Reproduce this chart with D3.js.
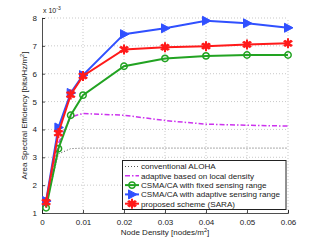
<!DOCTYPE html>
<html>
<head>
<meta charset="utf-8">
<script src="https://cdn.jsdelivr.net/npm/d3@7"></script>
<style>
  body { margin: 0; background: #fff; }
  text { font-family: "Liberation Sans", Arial, sans-serif; }
</style>
</head>
<body>
<div id="chart"></div>
<script>
const density = [0.001, 0.004, 0.007, 0.01, 0.02, 0.03, 0.04, 0.05, 0.06]
const aloha = [1.35, 3.12, 3.31, 3.33, 3.33, 3.33, 3.33, 3.33, 3.33]
const adaptiveLocal = [1.3, 3.5, 4.45, 4.57, 4.51, 4.32, 4.19, 4.15, 4.12]
const csmaFixed = [1.19, 3.31, 4.51, 5.23, 6.27, 6.55, 6.64, 6.67, 6.67]
const csmaAdaptive = [1.43, 4.07, 5.31, 5.95, 7.42, 7.63, 7.9, 7.81, 7.65]
const sara = [1.39, 3.87, 5.25, 5.92, 6.87, 6.95, 6.99, 7.05, 7.09]
const xTicks = [0, 0.01, 0.02, 0.03, 0.04, 0.05, 0.06]
const yTicks = [1, 2, 3, 4, 5, 6, 7, 8]

const series = [
  { name: 'conventional ALOHA', vals: aloha, color: '#555', dash: '1,2', width: 1, marker: null },
  { name: 'adaptive based on local density', vals: adaptiveLocal, color: '#cc33ee', dash: '5,2,1.5,2', width: 1.5, marker: null },
  { name: 'CSMA/CA with fixed sensing range', vals: csmaFixed, color: '#22a322', dash: null, width: 2, marker: 'circle' },
  { name: 'CSMA/CA with adaptive sensing range', vals: csmaAdaptive, color: '#3050ff', dash: null, width: 2, marker: 'tri' },
  { name: 'proposed scheme (SARA)', vals: sara, color: '#ff1a1a', dash: null, width: 2, marker: 'star' }
]

const w = 319, h = 240
const svg = d3.select('#chart').append('svg').attr('width', w).attr('height', h)

const x = d3.scaleLinear().domain([0, 0.06]).range([42, 288])
const y = d3.scaleLinear().domain([1, 8]).range([213, 18])

// grid
svg.append('g').selectAll('line').data(xTicks.slice(1)).enter().append('line')
  .attr('x1', d => x(d)).attr('x2', d => x(d)).attr('y1', y(1)).attr('y2', y(8))
  .attr('stroke', '#bbb').attr('stroke-width', 0.8).attr('stroke-dasharray', '1,2')
svg.append('g').selectAll('line').data(yTicks.slice(1)).enter().append('line')
  .attr('x1', x(0)).attr('x2', x(0.06)).attr('y1', d => y(d)).attr('y2', d => y(d))
  .attr('stroke', '#bbb').attr('stroke-width', 0.8).attr('stroke-dasharray', '1,2')

const xAxis = d3.axisBottom(x).tickValues(xTicks).tickSize(-3).tickPadding(6)
  .tickFormat(d => d === 0 ? '0' : d3.format('.2f')(d))
const yAxis = d3.axisLeft(y).tickValues(yTicks).tickSize(-3).tickPadding(5).tickFormat(d => d)

const gx = svg.append('g').attr('transform', `translate(0,${y(1)})`).call(xAxis)
const gy = svg.append('g').attr('transform', `translate(${x(0)},0)`).call(yAxis)
;[gx, gy].forEach(g => {
  g.select('.domain').attr('stroke', '#222').attr('stroke-width', 0.8)
  g.selectAll('.tick line').attr('stroke', '#222').attr('stroke-width', 0.8)
  g.selectAll('text').attr('font-size', 8).attr('fill', '#222')
})

svg.append('text').attr('x', 43).attr('y', 13).attr('font-size', 7).attr('fill', '#222')
  .text('x 10').append('tspan').attr('dy', -3).attr('font-size', 5).text('-3')

svg.append('text').attr('transform', `translate(27,${(y(1) + y(8)) / 2}) rotate(-90)`)
  .attr('text-anchor', 'middle').attr('font-size', 8).attr('fill', '#222')
  .text('Area Spectral Efficiency [bits/Hz/m').append('tspan').attr('dy', -3).attr('font-size', 5.5).text('2')
  .select(function () { return this.parentNode }).append('tspan').attr('dy', 3).text(']')

svg.append('text').attr('x', 165).attr('y', 235).attr('text-anchor', 'middle').attr('font-size', 8).attr('fill', '#222')
  .text('Node Density [nodes/m').append('tspan').attr('dy', -3).attr('font-size', 5.5).text('2')
  .select(function () { return this.parentNode }).append('tspan').attr('dy', 3).text(']')

function drawMarker(g, type, color) {
  if (type === 'circle') {
    g.append('circle').attr('r', 3.2).attr('fill', 'none').attr('stroke', color).attr('stroke-width', 1.5)
  } else if (type === 'tri') {
    g.append('path').attr('d', 'M-3.5,-4.5L5,0L-3.5,4.5Z').attr('fill', color).attr('stroke', color)
  } else if (type === 'star') {
    g.append('path').attr('d', d3.symbol().type(d3.symbolAsterisk).size(70)()).attr('stroke', color).attr('stroke-width', 2)
    g.append('path').attr('d', 'M-3,-3L3,3M-3,3L3,-3').attr('stroke', color).attr('stroke-width', 2)
  }
}

const line = d3.line().x((d, i) => x(density[i])).y(d => y(d))
series.forEach(s => {
  svg.append('path').datum(s.vals).attr('d', line).attr('fill', 'none')
    .attr('stroke', s.color).attr('stroke-width', s.width)
    .attr('stroke-dasharray', s.dash)
  if (s.marker) {
    s.vals.forEach((v, i) => {
      const g = svg.append('g').attr('transform', `translate(${x(density[i])},${y(v)})`)
      drawMarker(g, s.marker, s.color)
    })
  }
})

// legend
const legend = svg.append('g')
legend.append('rect').attr('x', 122.5).attr('y', 160.5).attr('width', 163.5).attr('height', 49)
  .attr('fill', '#fff').attr('stroke', '#222').attr('stroke-width', 1)
series.forEach((s, i) => {
  const ly = 166.5 + i * 9.3
  legend.append('line').attr('x1', 125).attr('x2', 139).attr('y1', ly).attr('y2', ly)
    .attr('stroke', s.color).attr('stroke-width', s.width).attr('stroke-dasharray', s.dash)
  if (s.marker) {
    const g = legend.append('g').attr('transform', `translate(132,${ly})`)
    drawMarker(g, s.marker, s.color)
  }
  legend.append('text').attr('x', 141).attr('y', ly + 2.8).attr('font-size', 8.1).attr('fill', '#222').text(s.name)
})
</script>
</body>
</html>
